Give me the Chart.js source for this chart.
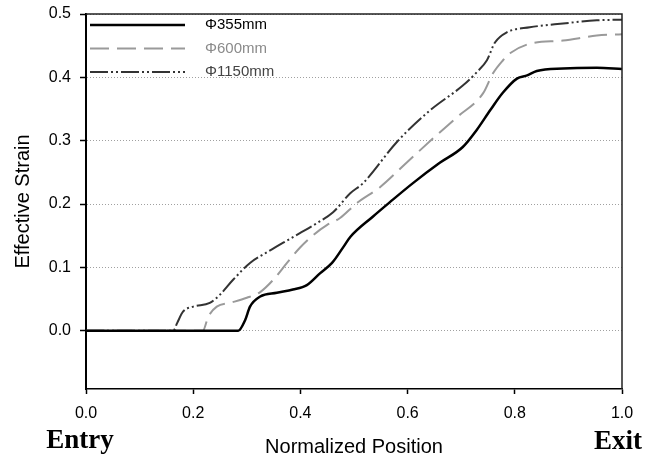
<!DOCTYPE html>
<html>
<head>
<meta charset="utf-8">
<script src="https://cdn.jsdelivr.net/npm/chart.js@4.4.1/dist/chart.umd.min.js"></script>
<style>
  body { margin: 0; background: #fff; }
  #caixa { width: 658px; height: 457px; }
</style>
</head>
<body>
<div id="caixa"><canvas id="meuGrafico" width="658" height="457"></canvas></div>
<script>
// posição normalizada (x) e deformação efetiva (y) para cada diâmetro de rolo
const pos355 = [0, 0.284, 0.297, 0.306, 0.325, 0.356, 0.386, 0.412, 0.437, 0.459, 0.480, 0.493, 0.535, 0.567, 0.610, 0.660, 0.703, 0.729, 0.754, 0.778, 0.804, 0.823, 0.841, 0.890, 0.953, 1.0];
const def355 = [0, 0, 0.017, 0.038, 0.054, 0.060, 0.065, 0.072, 0.091, 0.107, 0.132, 0.148, 0.180, 0.203, 0.233, 0.265, 0.290, 0.317, 0.348, 0.376, 0.398, 0.403, 0.410, 0.414, 0.415, 0.413];

const pos600 = [0, 0.218, 0.228, 0.244, 0.269, 0.300, 0.325, 0.349, 0.375, 0.399, 0.424, 0.450, 0.474, 0.506, 0.549, 0.599, 0.648, 0.692, 0.741, 0.759, 0.778, 0.791, 0.828, 0.890, 0.953, 1.0];
const def600 = [0, 0, 0.022, 0.038, 0.044, 0.052, 0.061, 0.080, 0.107, 0.131, 0.151, 0.167, 0.178, 0.202, 0.227, 0.266, 0.304, 0.337, 0.375, 0.406, 0.427, 0.438, 0.453, 0.458, 0.466, 0.468];

const pos1150 = [0, 0.163, 0.170, 0.181, 0.200, 0.231, 0.250, 0.274, 0.306, 0.338, 0.368, 0.399, 0.431, 0.461, 0.493, 0.517, 0.580, 0.642, 0.703, 0.729, 0.748, 0.763, 0.785, 0.828, 0.890, 0.953, 1.0];
const def1150 = [0, 0, 0.012, 0.030, 0.038, 0.044, 0.057, 0.080, 0.107, 0.124, 0.139, 0.154, 0.170, 0.187, 0.217, 0.233, 0.298, 0.348, 0.387, 0.408, 0.427, 0.455, 0.471, 0.479, 0.485, 0.490, 0.491];

const nomes = ['Φ355mm', 'Φ600mm', 'Φ1150mm'];
const ticksX = [0, 0.2, 0.4, 0.6, 0.8, 1.0];
const ticksY = [0, 0.1, 0.2, 0.3, 0.4, 0.5];

const fonte = '"Liberation Sans", Arial, sans-serif';
const pares = (xs, ys) => xs.map((x, i) => ({ x: x, y: ys[i] }));

// cor do texto de cada item da legenda
const corTexto = ['#000000', '#8a8a8a', '#444444'];

// legenda desenhada dentro da área do gráfico
const legenda = {
  id: 'legenda',
  afterDraw(chart) {
    const { ctx, chartArea } = chart;
    chart.data.datasets.forEach((ds, i) => {
      const y = chartArea.top + 11 + i * 23.5;
      const x0 = chartArea.left + 4;
      ctx.save();
      ctx.strokeStyle = ds.borderColor;
      ctx.lineWidth = ds.borderWidth;
      ctx.setLineDash(ds.borderDash || []);
      ctx.beginPath();
      ctx.moveTo(x0, y);
      ctx.lineTo(x0 + 95, y);
      ctx.stroke();
      ctx.setLineDash([]);
      ctx.fillStyle = corTexto[i];
      ctx.font = '15px ' + fonte;
      ctx.textBaseline = 'middle';
      ctx.fillText(ds.label, x0 + 115, y);
      ctx.restore();
    });
  }
};

// moldura (topo e direita) + textos Entry / Exit
const moldura = {
  id: 'moldura',
  afterDraw(chart) {
    const { ctx, chartArea: a } = chart;
    ctx.save();
    ctx.strokeStyle = '#222';
    ctx.lineWidth = 1.5;
    ctx.beginPath();
    ctx.moveTo(a.left, a.top);
    ctx.lineTo(a.right, a.top);
    ctx.lineTo(a.right, a.bottom);
    ctx.stroke();
    ctx.fillStyle = '#000';
    ctx.font = 'bold 27px "Liberation Serif", "Times New Roman", serif';
    ctx.textAlign = 'center';
    ctx.textBaseline = 'alphabetic';
    ctx.fillText('Entry', 80, 448);
    ctx.fillText('Exit', 618, 449);
    ctx.restore();
  }
};

const ctx = document.getElementById('meuGrafico').getContext('2d');
new Chart(ctx, {
  type: 'line',
  data: {
    datasets: [
      {
        label: nomes[0],
        data: pares(pos355, def355),
        borderColor: '#000000',
        borderWidth: 2.5,
        borderDash: []
      },
      {
        label: nomes[1],
        data: pares(pos600, def600),
        borderColor: '#9a9a9a',
        borderWidth: 2,
        borderDash: [19, 8]
      },
      {
        label: nomes[2],
        data: pares(pos1150, def1150),
        borderColor: '#333333',
        borderWidth: 2,
        borderDash: [18, 3, 2, 3, 2, 3]
      }
    ]
  },
  options: {
    responsive: false,
    animation: false,
    layout: { padding: { top: 14, right: 36, left: 0, bottom: 0 } },
    elements: {
      point: { radius: 0 },
      line: { cubicInterpolationMode: 'monotone', fill: false }
    },
    plugins: {
      legend: { display: false },
      tooltip: { enabled: false }
    },
    scales: {
      x: {
        type: 'linear',
        min: 0,
        max: 1,
        afterBuildTicks: (s) => { s.ticks = ticksX.map(v => ({ value: v })); },
        afterFit: (s) => { s.height = 68; s.paddingLeft = 0; s.paddingRight = 0; },
        ticks: {
          callback: (v) => Number(v).toFixed(1),
          color: '#000',
          font: { family: fonte, size: 16 },
          padding: 10,
          maxRotation: 0
        },
        grid: { drawOnChartArea: false, tickLength: 5, tickColor: '#000', tickWidth: 1.5 },
        border: { color: '#000', width: 1.5 },
        title: {
          display: true,
          text: 'Normalized Position',
          color: '#000',
          font: { family: fonte, size: 20, lineHeight: 1 },
          padding: { top: 0, bottom: 0 }
        }
      },
      y: {
        type: 'linear',
        min: -0.092,
        max: 0.5,
        afterBuildTicks: (s) => { s.ticks = ticksY.map(v => ({ value: v })); },
        afterFit: (s) => { s.width = 86; s.paddingTop = 0; s.paddingBottom = 0; },
        ticks: {
          callback: (v) => Number(v).toFixed(1),
          color: '#000',
          font: { family: fonte, size: 16 },
          padding: 9
        },
        grid: {
          color: '#a0a0a0',
          lineWidth: 1,
          tickLength: 6,
          tickColor: '#000',
          tickWidth: 1.5,
          tickBorderDash: []
        },
        border: { color: '#000', width: 2, dash: [1, 2] },
        title: {
          display: true,
          text: 'Effective Strain',
          color: '#000',
          font: { family: fonte, size: 20, lineHeight: 1 },
          padding: { top: 13, bottom: 0 }
        }
      }
    }
  },
  plugins: [legenda, moldura]
});
</script>
</body>
</html>
